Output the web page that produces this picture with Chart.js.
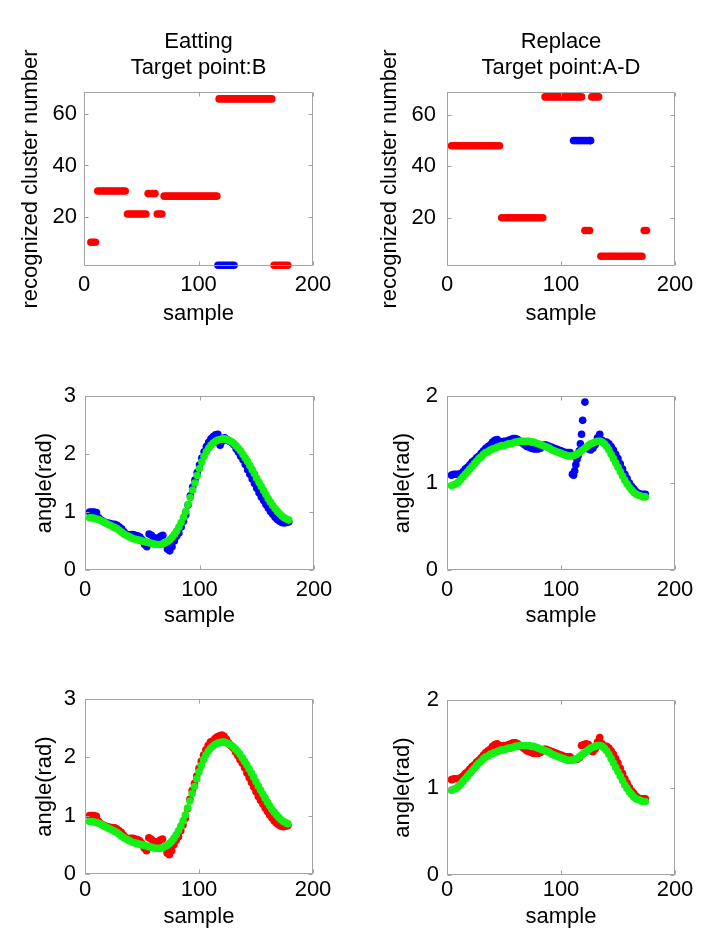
<!DOCTYPE html>
<html>
<head>
<meta charset="utf-8">
<script src="https://cdn.jsdelivr.net/npm/chart.js@4.4.1/dist/chart.umd.min.js"></script>
<style>
  body { margin: 0; background: #fff; width: 709px; height: 936px; position: relative; overflow: hidden; }
  .panel { position: absolute; }
</style>
</head>
<body>
<div class="panel" style="left:0;top:0;width:354px;height:345px"><canvas id="eatCluster"></canvas></div>
<div class="panel" style="left:354px;top:0;width:355px;height:345px"><canvas id="repCluster"></canvas></div>
<div class="panel" style="left:0;top:345px;width:354px;height:310px"><canvas id="eatBlue"></canvas></div>
<div class="panel" style="left:354px;top:345px;width:355px;height:310px"><canvas id="repBlue"></canvas></div>
<div class="panel" style="left:0;top:655px;width:354px;height:281px"><canvas id="eatRed"></canvas></div>
<div class="panel" style="left:354px;top:655px;width:355px;height:281px"><canvas id="repRed"></canvas></div>
<script>
'use strict';

// tick labels
const sampleTicks = [0, 100, 200];
const clusterTicks = [20, 40, 60];
const angleTicksEat = [0, 1, 2, 3];
const angleTicksRep = [0, 1, 2];

// Eatting, target point B : recognized cluster per sample
const eatRedSample = [6, 8, 10,
  12, 14, 16, 18, 20, 22, 24, 26, 28, 30, 32, 34, 36,
  38, 40, 42, 44, 46, 48, 50, 52, 54,
  56, 58, 60, 62,
  64, 66, 68,
  70, 72, 74, 76, 78, 80, 82, 84, 86, 88, 90, 92, 94, 96, 98, 100, 102, 104, 106, 108, 110, 112, 114, 116,
  118, 120, 122, 124, 126, 128, 130, 132, 134, 136, 138, 140, 142, 144, 146, 148, 150, 152, 154, 156, 158, 160, 162, 164,
  166, 168, 170, 172, 174, 176, 178];
const eatRedCluster = [10, 10, 10,
  30, 30, 30, 30, 30, 30, 30, 30, 30, 30, 30, 30, 30,
  21, 21, 21, 21, 21, 21, 21, 21, 21,
  29, 29, 29, 29,
  21, 21, 21,
  28, 28, 28, 28, 28, 28, 28, 28, 28, 28, 28, 28, 28, 28, 28, 28, 28, 28, 28, 28, 28, 28, 28, 28,
  66, 66, 66, 66, 66, 66, 66, 66, 66, 66, 66, 66, 66, 66, 66, 66, 66, 66, 66, 66, 66, 66, 66, 66,
  1, 1, 1, 1, 1, 1, 1];
const eatBlueSample = [117, 119, 121, 123, 125, 127, 129, 131];
const eatBlueCluster = [1, 1, 1, 1, 1, 1, 1, 1];

// Replace, target point A-D
const repRedSample = [4, 6, 8, 10, 12, 14, 16, 18, 20, 22, 24, 26, 28, 30, 32, 34, 36, 38, 40, 42, 44, 46,
  48, 50, 52, 54, 56, 58, 60, 62, 64, 66, 68, 70, 72, 74, 76, 78, 80, 82, 84,
  86, 88, 90, 92, 94, 96, 98, 100, 102, 104, 106, 108, 110, 112, 114, 116, 118,
  121, 123, 125,
  127, 129, 131, 133,
  135, 137, 139, 141, 143, 145, 147, 149, 151, 153, 155, 157, 159, 161, 163, 165, 167, 169, 171,
  173, 175];
const repRedCluster = [48, 48, 48, 48, 48, 48, 48, 48, 48, 48, 48, 48, 48, 48, 48, 48, 48, 48, 48, 48, 48, 48,
  20, 20, 20, 20, 20, 20, 20, 20, 20, 20, 20, 20, 20, 20, 20, 20, 20, 20, 20,
  67, 67, 67, 67, 67, 67, 67, 67, 67, 67, 67, 67, 67, 67, 67, 67, 67,
  15, 15, 15,
  67, 67, 67, 67,
  5, 5, 5, 5, 5, 5, 5, 5, 5, 5, 5, 5, 5, 5, 5, 5, 5, 5, 5,
  15, 15];
const repBlueSample = [111, 113, 115, 117, 119, 121, 123, 125, 126];
const repBlueCluster = [50, 50, 50, 50, 50, 50, 50, 50, 50];

// joint angle, Eatting
const eatSample = [4, 6, 8, 10, 12, 14, 16, 18, 20, 22, 24, 26, 28, 30, 32, 34, 36, 38, 40, 42, 44, 46, 48, 50,
  52, 54, 56, 58, 60, 62, 64, 66, 68, 70, 72, 74, 76, 78, 80, 82, 84, 86, 88, 90, 92, 94, 96, 98, 100,
  102, 104, 106, 108, 110, 112, 114, 116, 118, 120, 122, 124, 126, 128, 130, 132, 134, 136, 138, 140,
  142, 144, 146, 148, 150, 152, 154, 156, 158, 160, 162, 164, 166, 168, 170, 172, 174, 176, 178];
const eatRefAngle = [0.90, 0.90, 0.89, 0.88, 0.87, 0.85, 0.83, 0.81, 0.79, 0.77, 0.75, 0.73, 0.71, 0.68, 0.65,
  0.62, 0.60, 0.58, 0.56, 0.54, 0.53, 0.52, 0.51, 0.50, 0.49, 0.48, 0.47, 0.46, 0.45, 0.44, 0.44, 0.44,
  0.45, 0.47, 0.49, 0.52, 0.56, 0.61, 0.67, 0.74, 0.82, 0.91, 1.01, 1.13, 1.25, 1.38, 1.50, 1.63, 1.75,
  1.86, 1.96, 2.04, 2.10, 2.15, 2.19, 2.22, 2.24, 2.25, 2.26, 2.26, 2.25, 2.23, 2.21, 2.18, 2.14, 2.10,
  2.05, 1.99, 1.93, 1.87, 1.80, 1.73, 1.66, 1.58, 1.51, 1.44, 1.37, 1.30, 1.23, 1.17, 1.11, 1.06, 1.01,
  0.97, 0.93, 0.90, 0.88, 0.86];
const eatBlueAngle = [1.00, 1.00, 1.00, 0.99, 0.90, 0.86, 0.84, 0.82, 0.81, 0.80, 0.79, 0.79, 0.77, 0.74, 0.71,
  0.66, 0.62, 0.60, 0.61, 0.61, 0.60, 0.59, 0.57, 0.52, 0.44, 0.40, 0.62, 0.60, 0.56, 0.54, 0.55, 0.58,
  0.60, 0.45, 0.36, 0.33, 0.40, 0.50, 0.58, 0.64, 0.74, 0.84, 0.95, 1.12, 1.28, 1.43, 1.55, 1.68, 1.81,
  1.93, 2.04, 2.13, 2.20, 2.26, 2.30, 2.33, 2.34, 2.15, 2.22, 2.28, 2.25, 2.22, 2.20, 2.16, 2.09, 2.03,
  1.96, 1.90, 1.82, 1.73, 1.65, 1.57, 1.49, 1.41, 1.33, 1.26, 1.20, 1.13, 1.07, 1.01, 0.96, 0.91, 0.87,
  0.84, 0.82, 0.81, 0.82, 0.83];
const eatRedAngle = [1.00, 1.00, 1.00, 0.99, 0.90, 0.86, 0.84, 0.82, 0.81, 0.80, 0.79, 0.79, 0.77, 0.74, 0.71,
  0.66, 0.62, 0.60, 0.61, 0.61, 0.60, 0.59, 0.57, 0.52, 0.44, 0.40, 0.62, 0.60, 0.56, 0.54, 0.55, 0.58,
  0.60, 0.45, 0.36, 0.33, 0.40, 0.50, 0.58, 0.64, 0.74, 0.84, 0.95, 1.12, 1.28, 1.43, 1.55, 1.68, 1.81,
  1.93, 2.04, 2.13, 2.20, 2.26, 2.28, 2.32, 2.35, 2.37, 2.38, 2.36, 2.31, 2.25, 2.20, 2.16, 2.09, 2.03,
  1.96, 1.90, 1.82, 1.73, 1.65, 1.57, 1.49, 1.41, 1.33, 1.26, 1.20, 1.13, 1.07, 1.01, 0.96, 0.91, 0.87,
  0.84, 0.82, 0.81, 0.82, 0.83];

// joint angle, Replace
const repSample = [4, 6, 8, 10, 12, 14, 16, 18, 20, 22, 24, 26, 28, 30, 32, 34, 36, 38, 40, 42, 44, 46, 48, 50,
  52, 54, 56, 58, 60, 62, 64, 66, 68, 70, 72, 74, 76, 78, 80, 82, 84, 86, 88, 90, 92, 94, 96, 98, 100,
  102, 104, 106, 108, 110, 112, 114, 116, 118, 120, 122, 124, 126, 128, 130, 132, 134, 136, 138, 140,
  142, 144, 146, 148, 150, 152, 154, 156, 158, 160, 162, 164, 166, 168, 170, 172, 174];
const repRefAngle = [0.97, 0.98, 0.99, 1.01, 1.04, 1.07, 1.10, 1.13, 1.16, 1.19, 1.22, 1.25, 1.28, 1.30, 1.33,
  1.35, 1.36, 1.38, 1.39, 1.40, 1.41, 1.42, 1.43, 1.43, 1.44, 1.45, 1.45, 1.46, 1.47, 1.47, 1.48, 1.48,
  1.48, 1.48, 1.48, 1.47, 1.47, 1.46, 1.45, 1.44, 1.43, 1.42, 1.41, 1.40, 1.38, 1.37, 1.36, 1.35, 1.34,
  1.33, 1.32, 1.31, 1.31, 1.31, 1.32, 1.33, 1.35, 1.37, 1.39, 1.41, 1.43, 1.45, 1.46, 1.47, 1.48, 1.48,
  1.47, 1.45, 1.42, 1.38, 1.33, 1.28, 1.23, 1.18, 1.13, 1.08, 1.03, 0.99, 0.95, 0.92, 0.89, 0.87, 0.86,
  0.85, 0.84, 0.84];
const repBlueAngleSample = [4, 6, 8, 10, 12, 14, 16, 18, 20, 22, 24, 26, 28, 30, 32, 34, 36, 38, 40, 42, 44, 46, 48, 50,
  52, 54, 56, 58, 60, 62, 64, 66, 68, 70, 72, 74, 76, 78, 80, 82, 84, 86, 88, 90, 92, 94, 96, 98, 100,
  102, 104, 106, 108,
  110, 111, 112, 113, 114, 115, 116, 117, 118, 119, 121,
  124, 126, 128, 130, 132, 134, 136, 138, 140, 142, 144, 146, 148, 150, 152, 154, 156, 158, 160, 162,
  164, 166, 168, 170, 172, 174];
const repBlueAngle = [1.09, 1.10, 1.10, 1.10, 1.11, 1.13, 1.16, 1.18, 1.21, 1.24, 1.26, 1.29, 1.31, 1.34, 1.37,
  1.40, 1.42, 1.44, 1.47, 1.49, 1.50, 1.48, 1.47, 1.48, 1.48, 1.49, 1.50, 1.51, 1.51, 1.50, 1.48, 1.46,
  1.44, 1.42, 1.41, 1.40, 1.39, 1.39, 1.39, 1.40, 1.43, 1.44, 1.43, 1.42, 1.41, 1.40, 1.39, 1.38, 1.37,
  1.36, 1.35, 1.35, 1.35,
  1.10, 1.09, 1.14, 1.21, 1.27, 1.31, 1.37, 1.45, 1.56, 1.72, 1.93,
  1.39, 1.38, 1.40, 1.44, 1.52, 1.56, 1.49, 1.47, 1.47, 1.45, 1.42, 1.38, 1.33, 1.28, 1.22, 1.16, 1.10,
  1.05, 1.00, 0.96, 0.93, 0.90, 0.88, 0.87, 0.87, 0.87];
const repRedAngle = [1.09, 1.10, 1.10, 1.10, 1.11, 1.13, 1.16, 1.18, 1.21, 1.24, 1.26, 1.29, 1.31, 1.34, 1.37,
  1.40, 1.42, 1.44, 1.47, 1.49, 1.50, 1.48, 1.47, 1.48, 1.48, 1.49, 1.50, 1.51, 1.51, 1.50, 1.48, 1.46,
  1.44, 1.42, 1.41, 1.40, 1.39, 1.39, 1.39, 1.40, 1.43, 1.44, 1.43, 1.42, 1.41, 1.40, 1.39, 1.38, 1.37,
  1.36, 1.35, 1.35, 1.35,
  1.32, 1.32, 1.32, 1.34, 1.48, 1.49, 1.50, 1.49, 1.42, 1.41, 1.44, 1.52, 1.57, 1.50,
  1.47, 1.47, 1.45, 1.42, 1.38, 1.33, 1.28, 1.22, 1.16, 1.10, 1.05, 1.00, 0.96, 0.93, 0.90, 0.88, 0.87,
  0.87, 0.87];

const RED = '#ff0000', BLUE = '#0000ff', GREEN = '#14f014';
const fontFamily = "'Liberation Sans', Arial, Helvetica, sans-serif";
const frameColor = '#a3a3a3';
const font = {family: fontFamily, size: 22, weight: 'normal', lineHeight: 1.2};

const toPoints = (xs, ys) => xs.map((x, i) => ({x: x, y: ys[i]}));

const dots = (xs, ys, color) => ({
  data: toPoints(xs, ys),
  backgroundColor: color,
  borderWidth: 0,
  pointRadius: 3.8,
  showLine: false,
  clip: false
});

// box on + inward ticks on every side, like the old matlab figures
const matlabBox = {
  id: 'matlabBox',
  afterDatasetsDraw(chart) {
    const {ctx, chartArea: a, scales} = chart;
    const L = Math.round(a.left) + 0.5, R = Math.round(a.right) - 0.5;
    const T = Math.round(a.top) + 0.5, B = Math.round(a.bottom) - 0.5;
    ctx.save();
    ctx.strokeStyle = frameColor;
    ctx.lineWidth = 1;
    ctx.beginPath();
    ctx.rect(L, T, R - L, B - T);
    scales.x.ticks.forEach(t => {
      const px = Math.round(scales.x.getPixelForValue(t.value)) + 0.5;
      ctx.moveTo(px, B); ctx.lineTo(px, B - 4);
      ctx.moveTo(px, T); ctx.lineTo(px, T + 4);
    });
    scales.y.ticks.forEach(t => {
      const py = Math.round(scales.y.getPixelForValue(t.value)) + 0.5;
      ctx.moveTo(L, py); ctx.lineTo(L + 4, py);
      ctx.moveTo(R, py); ctx.lineTo(R - 4, py);
    });
    ctx.stroke();
    ctx.restore();
  }
};

const makePanel = (id, p) => {
  new Chart(document.getElementById(id), {
    type: 'scatter',
    data: {datasets: p.datasets},
    plugins: [matlabBox],
    options: {
      responsive: true,
      maintainAspectRatio: false,
      devicePixelRatio: 1,
      animation: false,
      events: [],
      layout: {padding: {left: 0, top: p.padTop, right: p.padRight, bottom: 0}},
      plugins: {
        legend: {display: false},
        tooltip: {enabled: false},
        title: {
          display: !!p.title,
          text: p.title || '',
          fullSize: false,
          color: '#000',
          font: font,
          padding: {top: 28.8, bottom: 10.4}
        }
      },
      scales: {
        x: {
          type: 'linear',
          min: 0,
          max: 200,
          afterBuildTicks: s => { s.ticks = sampleTicks.map(v => ({value: v})); },
          afterFit: s => { s.height = p.xAxisH; },
          grid: {display: false, drawTicks: false},
          border: {display: false},
          ticks: {color: '#000', font: font, padding: p.xTickPad, maxRotation: 0, autoSkip: false,
            callback: v => String(v)},
          title: {display: true, text: 'sample', color: '#000', font: font,
            padding: {top: 0, bottom: p.xTitlePad}}
        },
        y: {
          type: 'linear',
          min: p.yMin,
          max: p.yMax,
          afterBuildTicks: s => { s.ticks = p.yTicks.map(v => ({value: v})); },
          afterFit: s => { s.width = p.yAxisW; },
          grid: {display: false, drawTicks: false},
          border: {display: false},
          ticks: {color: '#000', font: font, padding: p.yTickPad, autoSkip: false,
            callback: v => String(v)},
          title: {display: true, text: p.yTitle, color: '#000', font: font,
            padding: {top: p.yTitlePad, bottom: 0}}
        }
      }
    }
  });
};

makePanel('eatCluster', {
  title: ['Eatting', 'Target point:B'],
  yTitle: 'recognized cluster number', yMin: 0.7, yMax: 68.7, yTicks: clusterTicks,
  padTop: 0, padRight: 41, yAxisW: 84, xAxisH: 79,
  xTickPad: 6, xTitlePad: 17.8, yTickPad: 7, yTitlePad: 17.8,
  datasets: [dots(eatRedSample, eatRedCluster, RED), dots(eatBlueSample, eatBlueCluster, BLUE)]
});

makePanel('repCluster', {
  title: ['Replace', 'Target point:A-D'],
  yTitle: 'recognized cluster number', yMin: 1.2, yMax: 68.9, yTicks: clusterTicks,
  padTop: 0, padRight: 34, yAxisW: 93, xAxisH: 79,
  xTickPad: 6, xTitlePad: 17.8, yTickPad: 11, yTitlePad: 22.8,
  datasets: [dots(repRedSample, repRedCluster, RED), dots(repBlueSample, repBlueCluster, BLUE)]
});

makePanel('eatBlue', {
  yTitle: 'angle(rad)', yMin: 0, yMax: 3, yTicks: angleTicksEat,
  padTop: 51, padRight: 40, yAxisW: 85, xAxisH: 85,
  xTickPad: 6.4, xTitlePad: 26.3, yTickPad: 9, yTitlePad: 31.8,
  datasets: [dots(eatSample, eatRefAngle, GREEN), dots(eatSample, eatBlueAngle, BLUE)]
});

makePanel('repBlue', {
  yTitle: 'angle(rad)', yMin: 0, yMax: 2, yTicks: angleTicksRep,
  padTop: 51, padRight: 34, yAxisW: 93, xAxisH: 85,
  xTickPad: 6.4, xTitlePad: 26.3, yTickPad: 9, yTitlePad: 35.8,
  datasets: [dots(repSample, repRefAngle, GREEN), dots(repBlueAngleSample, repBlueAngle, BLUE)]
});

makePanel('eatRed', {
  yTitle: 'angle(rad)', yMin: 0, yMax: 3, yTicks: angleTicksEat,
  padTop: 44, padRight: 41, yAxisW: 85, xAxisH: 62,
  xTickPad: 2.4, xTitlePad: 5.8, yTickPad: 9, yTitlePad: 31.8,
  datasets: [dots(eatSample, eatRefAngle, GREEN), dots(eatSample, eatRedAngle, RED)]
});

makePanel('repRed', {
  yTitle: 'angle(rad)', yMin: 0, yMax: 2, yTicks: angleTicksRep,
  padTop: 45, padRight: 34, yAxisW: 93, xAxisH: 61,
  xTickPad: 1.4, xTitlePad: 5.8, yTickPad: 8, yTitlePad: 35.3,
  datasets: [dots(repSample, repRefAngle, GREEN), dots(repSample, repRedAngle, RED)]
});
</script>
</body>
</html>
